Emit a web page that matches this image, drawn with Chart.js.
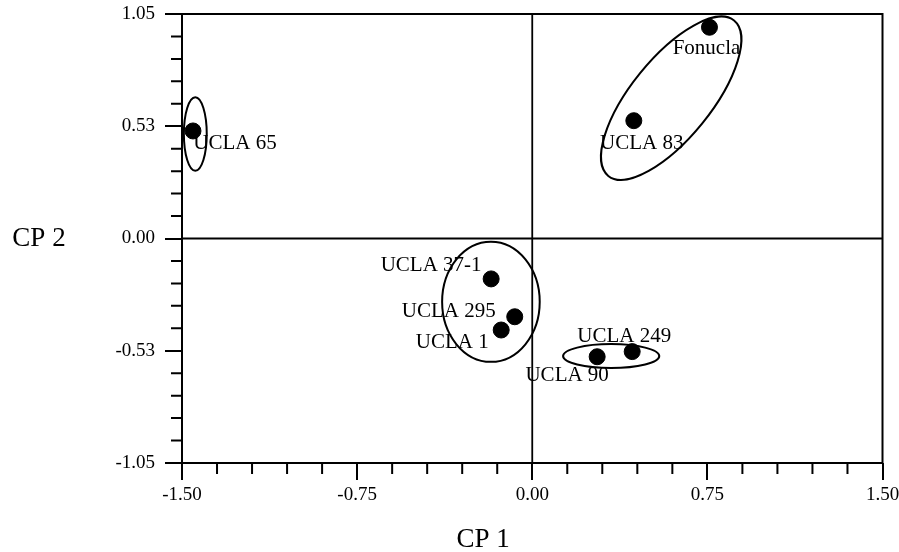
<!DOCTYPE html>
<html>
<head>
<meta charset="utf-8">
<script src="https://cdn.jsdelivr.net/npm/chart.js@4.4.0/dist/chart.umd.min.js"></script>
<style>
    body { margin: 0; background: #fff; }
    #wrap { width: 899px; height: 552px; position: relative; }
</style>
</head>
<body>
<div id="wrap"><canvas id="pcaChart"></canvas></div>
<script>
// Accessions and their scores on the first two components
const names = ["UCLA 65", "Fonucla", "UCLA 83", "UCLA 37-1", "UCLA 295", "UCLA 1", "UCLA 249", "UCLA 90"];
const cp1 = [-1.453, 0.759, 0.435, -0.176, -0.075, -0.133, 0.428, 0.278];
const cp2 = [0.503, 0.988, 0.551, -0.189, -0.366, -0.428, -0.529, -0.553];

// Groups circled on the plot (centre, radii in axis units, tilt in degrees)
const groupX = [-1.443, -0.177, 0.338, 0.595];
const groupY = [0.489, -0.296, -0.550, 0.656];
const groupRx = [0.049, 0.209, 0.206, 0.428];
const groupRy = [0.172, 0.281, 0.056, 0.187];
const groupTilt = [0, 0, 0, -51];

// Axis ticks
const xTicks = [-1.5, -0.75, 0, 0.75, 1.5];
const xTickLabels = ["-1.50", "-0.75", "0.00", "0.75", "1.50"];
const xMinorStep = 0.15;
const yTicks = [-1.05, -0.525, 0, 0.525, 1.05];
const yTickLabels = ["-1.05", "-0.53", "0.00", "0.53", "1.05"];
const yMinorStep = 0.105;

// where each name sits relative to its dot (px)
const labelOffsets = [[42, 13], [-3, 21], [8, 23], [-60, -13], [-66, -5], [-49, 12], [-8, -15], [-30, 19]];

const serif = "'Liberation Serif', 'Times New Roman', serif";

// keep the plot frame where the layout padding puts it
function noScalePadding(s) {
    s.paddingTop = 0;
    s.paddingBottom = 0;
    s.paddingLeft = 0;
    s.paddingRight = 0;
}

const pcaDecor = {
    id: "pcaDecor",
    beforeDatasetsDraw(chart) {
        const ctx = chart.ctx;
        const x = chart.scales.x, y = chart.scales.y;
        const a = chart.chartArea;
        ctx.save();
        ctx.strokeStyle = "#000";

        // zero lines
        ctx.lineWidth = 1.8;
        ctx.beginPath();
        ctx.moveTo(a.left, y.getPixelForValue(0));
        ctx.lineTo(a.right, y.getPixelForValue(0));
        ctx.moveTo(x.getPixelForValue(0), a.top);
        ctx.lineTo(x.getPixelForValue(0), a.bottom);
        ctx.stroke();

        // frame
        ctx.lineWidth = 2;
        ctx.strokeRect(a.left, a.top, a.right - a.left, a.bottom - a.top);

        // minor ticks
        ctx.beginPath();
        for (let i = 1; i < 20; i++) {
            if (i % 5 === 0) continue;
            const px = x.getPixelForValue(-1.5 + i * xMinorStep);
            ctx.moveTo(px, a.bottom);
            ctx.lineTo(px, a.bottom + 11);
            const py = y.getPixelForValue(-1.05 + i * yMinorStep);
            ctx.moveTo(a.left, py);
            ctx.lineTo(a.left - 11, py);
        }
        ctx.stroke();

        // group ellipses
        const sx = Math.abs(x.getPixelForValue(1) - x.getPixelForValue(0));
        const sy = Math.abs(y.getPixelForValue(1) - y.getPixelForValue(0));
        ctx.lineWidth = 2;
        for (let i = 0; i < groupX.length; i++) {
            ctx.beginPath();
            ctx.ellipse(x.getPixelForValue(groupX[i]), y.getPixelForValue(groupY[i]),
                groupRx[i] * sx, groupRy[i] * sy, groupTilt[i] * Math.PI / 180, 0, Math.PI * 2);
            ctx.stroke();
        }
        ctx.restore();
    },
    afterDatasetsDraw(chart) {
        const ctx = chart.ctx;
        const x = chart.scales.x, y = chart.scales.y;
        const a = chart.chartArea;
        ctx.save();
        ctx.fillStyle = "#000";
        ctx.textAlign = "center";
        ctx.textBaseline = "middle";

        ctx.font = "21px " + serif;
        names.forEach((n, i) => {
            ctx.fillText(n, x.getPixelForValue(cp1[i]) + labelOffsets[i][0],
                y.getPixelForValue(cp2[i]) + labelOffsets[i][1]);
        });

        // axis titles
        ctx.font = "27px " + serif;
        ctx.fillText("CP 2", 39, y.getPixelForValue(0));
        ctx.fillText("CP 1", a.left + (a.right - a.left) * 0.43, a.bottom + 77);
        ctx.restore();
    }
};

new Chart(document.getElementById("pcaChart"), {
    type: "scatter",
    data: {
        datasets: [{
            label: "Accessions",
            data: names.map((n, i) => ({ x: cp1[i], y: cp2[i] })),
            backgroundColor: "#000",
            borderColor: "#000",
            pointRadius: 8,
            pointHoverRadius: 8
        }]
    },
    options: {
        responsive: true,
        maintainAspectRatio: false,
        animation: false,
        layout: { padding: { left: 0, top: 14, right: 16.5, bottom: 0 } },
        plugins: {
            legend: { display: false },
            tooltip: { enabled: false }
        },
        scales: {
            x: {
                type: "linear",
                min: -1.5,
                max: 1.5,
                afterBuildTicks: s => { s.ticks = xTicks.map(v => ({ value: v })); },
                afterFit: s => { s.height = 89; noScalePadding(s); },
                border: { display: false },
                grid: { drawOnChartArea: false, tickLength: 17, color: "#000", lineWidth: 2 },
                ticks: {
                    autoSkip: false,
                    maxRotation: 0,
                    padding: 4,
                    color: "#000",
                    font: { family: serif, size: 19 },
                    callback: (v, i) => xTickLabels[i]
                }
            },
            y: {
                type: "linear",
                min: -1.05,
                max: 1.05,
                afterBuildTicks: s => { s.ticks = yTicks.map(v => ({ value: v })); },
                afterFit: s => { s.width = 182; noScalePadding(s); },
                border: { display: false },
                grid: { drawOnChartArea: false, tickLength: 17, color: "#000", lineWidth: 2 },
                ticks: {
                    autoSkip: false,
                    padding: 10,
                    color: "#000",
                    font: { family: serif, size: 19 },
                    callback: (v, i) => yTickLabels[i]
                }
            }
        }
    },
    plugins: [pcaDecor]
});
</script>
</body>
</html>
